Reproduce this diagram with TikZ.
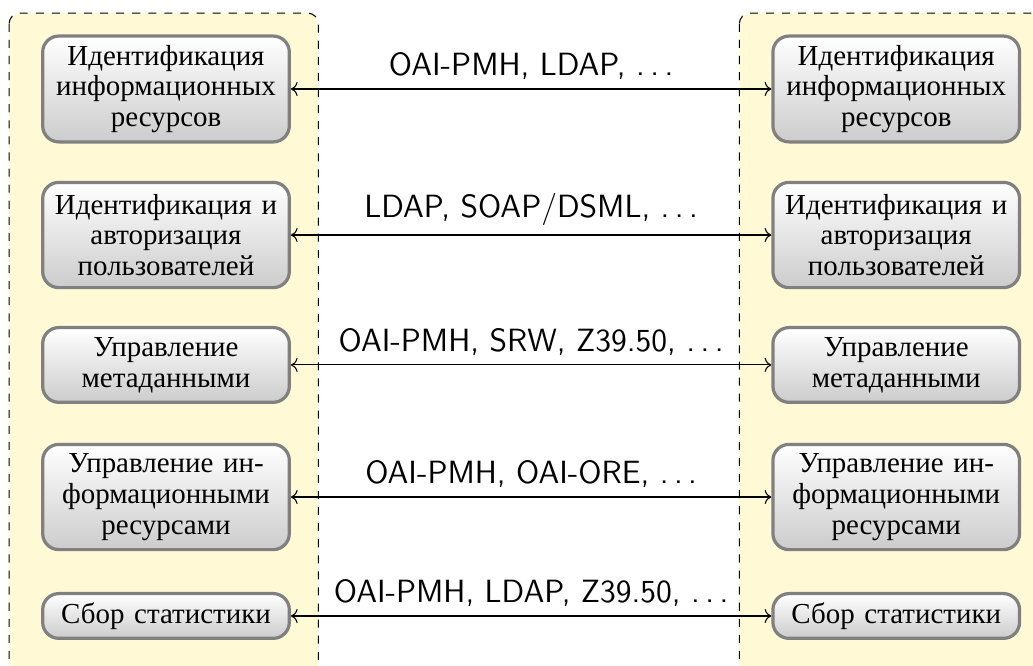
\documentclass[tikz,border=0pt]{standalone}
\usepackage{fontspec}
\setmainfont{Liberation Serif}
\usepackage{tikz}
\usetikzlibrary{arrows.meta,positioning,calc,backgrounds}
\definecolor{zonefill}{HTML}{FFF9D6}
\definecolor{blkedge}{HTML}{808080}
\newcommand{\etcdots}{.\kern.17em.\kern.17em.}
\tikzset{
  blk/.style={rectangle,rounded corners=6pt,draw=blkedge,line width=1.2pt,
    top color=white,bottom color=gray!40,text width=3cm,align=center,
    minimum height=#1,font=\fontsize{10.8}{11.5}\selectfont},
  blk/.default={1.38cm},
  zone/.style={draw=black,dashed,rounded corners=4pt,fill=zonefill,line width=0.4pt},
  link/.style={<->,line width=0.4pt},
  proto/.style={font=\sffamily\large,above},
}

\begin{document}
\begin{tikzpicture}
  \useasboundingbox (0,0) rectangle (13.547,8.734);
  % left column
  \node[blk] (l1) at (2.177,7.567) {Идентификация\\информационных\\ресурсов};
  \node[blk] (l2) at (2.177,5.652) {Идентификация и\\авторизация\\пользователей};
  \node[blk=0.98cm] (l3) at (2.177,3.948) {Управление\\метаданными};
  \node[blk] (l4) at (2.177,2.216) {Управление ин-\\формационными\\ресурсами};
  \node[blk=0.58cm] (l5) at (2.177,0.656) {Сбор статистики};
  % right column
  \node[blk,right=6.3cm of l1] (r1) {Идентификация\\информационных\\ресурсов};
  \node[blk,right=6.3cm of l2] (r2) {Идентификация и\\авторизация\\пользователей};
  \node[blk=0.98cm,right=6.3cm of l3] (r3) {Управление\\метаданными};
  \node[blk,right=6.3cm of l4] (r4) {Управление ин-\\формационными\\ресурсами};
  \node[blk=0.58cm,right=6.3cm of l5] (r5) {Сбор статистики};
  % protocols
  \draw[link] (l1) -- (r1) node[proto,midway] {OAI-PMH, LDAP, \etcdots};
  \draw[link] (l2) -- (r2) node[proto,midway] {LDAP, SOAP/DSML, \etcdots};
  \draw[link] (l3) -- (r3) node[proto,midway] {OAI-PMH, SRW, Z39.50, \etcdots};
  \draw[link] (l4) -- (r4) node[proto,midway] {OAI-PMH, OAI-ORE, \etcdots};
  \draw[link] (l5) -- (r5) node[proto,midway] {OAI-PMH, LDAP, Z39.50, \etcdots};
  \begin{scope}[on background layer]
    \draw[zone] ($(l1.north west)+(-0.42,0.28)$) rectangle ($(l5.south east)+(0.36,-0.45)$);
    \draw[zone] ($(r1.north west)+(-0.42,0.28)$) rectangle ($(r5.south east)+(0.36,-0.45)$);
  \end{scope}
\end{tikzpicture}
\end{document}
